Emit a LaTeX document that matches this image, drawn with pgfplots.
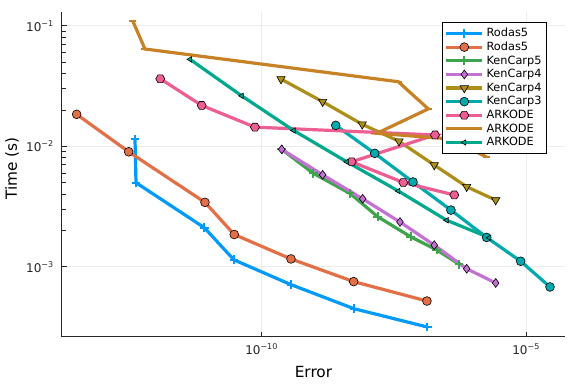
\documentclass[border=0pt]{standalone}
\usepackage{pgfplots}
\pgfplotsset{compat=1.18}
\usepackage{fontspec}
\setmainfont{DejaVu Sans}
\definecolor{c1}{HTML}{009AFA}
\definecolor{c2}{HTML}{E36F47}
\definecolor{c3}{HTML}{3EA44E}
\definecolor{c4}{HTML}{C371D2}
\definecolor{c5}{HTML}{AC8E18}
\definecolor{c6}{HTML}{00A9AD}
\definecolor{c7}{HTML}{ED5E93}
\definecolor{c8}{HTML}{C68225}
\definecolor{c9}{HTML}{00A98D}
\pgfdeclareplotmark{hexagon*}{%
  \pgfpathmoveto{\pgfpointpolar{0}{\pgfplotmarksize}}%
  \pgfpathlineto{\pgfpointpolar{60}{\pgfplotmarksize}}%
  \pgfpathlineto{\pgfpointpolar{120}{\pgfplotmarksize}}%
  \pgfpathlineto{\pgfpointpolar{180}{\pgfplotmarksize}}%
  \pgfpathlineto{\pgfpointpolar{240}{\pgfplotmarksize}}%
  \pgfpathlineto{\pgfpointpolar{300}{\pgfplotmarksize}}%
  \pgfpathclose\pgfusepathqfillstroke}
\begin{document}
\begin{tikzpicture}
\useasboundingbox (-46.5pt,-35.25pt) rectangle (385.5pt,252.75pt);
\begin{axis}[
  at={(0,0)}, anchor=south west,
  scale only axis, width=377.25pt, height=243.75pt,
  xmode=log, ymode=log,
  xmin=1.68e-14, xmax=5.41e-5,
  ymin=2.61e-4, ymax=0.130,
  axis x line*=bottom, axis y line*=left,
  axis line style={-, draw=black!85, line width=0.75pt},
  tick align=inside, major tick length=4pt,
  tick style={draw=black!85, line width=0.6pt},
  xtick={1e-10,1e-5},
  xticklabels={10\textsuperscript{−10},10\textsuperscript{−5}},
  ytick={1e-3,1e-2,1e-1},
  yticklabels={10\textsuperscript{−3},10\textsuperscript{−2},10\textsuperscript{−1}},
  minor xtick={}, minor ytick={},
  ticklabel style={font=\fontsize{9}{10}\selectfont, text=black!85},
  xticklabel style={yshift=-1.5pt},
  yticklabel style={xshift=-2.5pt},
  grid=major, major grid style={draw=black!8, line width=0.5pt},
  xlabel={Error}, ylabel={Time (s)},
  every axis x label/.style={at={(axis description cs:0.5,-0.1092)}, anchor=center, font=\fontsize{11.5}{13}\selectfont},
  every axis y label/.style={at={(axis description cs:-0.0994,0.518)}, anchor=center, rotate=90, font=\fontsize{11.5}{13}\selectfont},
  legend style={at={(1,1)}, anchor=north east, xshift=-13.3pt, yshift=-7.7pt,
    font=\fontsize{8.5}{9}\selectfont, draw=black, line width=0.6pt, fill=white,
    row sep=-1.6pt, inner sep=2pt},
  legend cell align=left,
  legend image code/.code={\draw[mark repeat=2,mark phase=2] plot coordinates {(0pt,0pt) (13.5pt,0pt) (27pt,0pt)};},
  every axis plot/.append style={line width=2.4pt},
]
% Rodas5 (blue, +)
\addplot[c1, mark=+, mark size=3.3pt, mark options={line width=1.5pt}] coordinates {
(1.35e-7,3.16e-4) (5.56e-9,4.48e-4) (3.58e-10,7.10e-4) (2.99e-11,1.14e-3)
(8.22e-12,2.11e-3) (4.21e-13,4.98e-3) (4.03e-13,1.14e-2)};
\addlegendentry{Rodas5}
% Rodas5 (orange circles)
\addplot[c2, mark=*, mark size=3.3pt, mark options={fill=c2, draw=black, line width=0.45pt}] coordinates {
(3.18e-14,1.84e-2) (3.06e-13,8.99e-3) (8.47e-12,3.42e-3) (3.03e-11,1.85e-3)
(3.58e-10,1.16e-3) (5.48e-9,7.52e-4) (1.33e-7,5.19e-4)};
\addlegendentry{Rodas5}
% KenCarp5 (green, +)
\addplot[c3, mark=+, mark size=3.3pt, mark options={line width=1.5pt}] coordinates {
(2.39e-10,9.42e-3) (9.44e-10,5.96e-3) (4.67e-9,4.06e-3) (1.56e-8,2.60e-3)
(6.56e-8,1.77e-3) (2.03e-7,1.38e-3) (5.37e-7,1.05e-3)};
\addlegendentry{KenCarp5}
% KenCarp4 (purple diamonds)
\addplot[c4, mark=diamond*, mark size=3.3pt, mark options={fill=c4, draw=black, line width=0.45pt}] coordinates {
(2.39e-10,9.42e-3) (1.42e-9,5.79e-3) (8.11e-9,3.66e-3) (4.11e-8,2.35e-3)
(1.83e-7,1.51e-3) (7.50e-7,9.62e-4) (2.65e-6,7.33e-4)};
\addlegendentry{KenCarp4}
% KenCarp4 (olive, down triangles)
\addplot[c5, mark=triangle*, mark size=3.6pt, mark options={fill=c5, draw=black, line width=0.45pt, rotate=180}] coordinates {
(2.32e-10,3.61e-2) (1.42e-9,2.34e-2) (7.94e-9,1.52e-2) (3.94e-8,1.10e-2) (1.83e-7,6.98e-3)
(7.50e-7,4.61e-3) (2.65e-6,3.57e-3)};
\addlegendentry{KenCarp4}
% KenCarp3 (teal circles)
\addplot[c6, mark=*, mark size=3.3pt, mark options={fill=c6, draw=black, line width=0.45pt}] coordinates {
(2.51e-9,1.49e-2) (1.37e-8,8.73e-3) (7.24e-8,5.05e-3) (3.78e-7,2.95e-3)
(1.79e-6,1.75e-3) (7.87e-6,1.11e-3) (2.82e-5,6.79e-4)};
\addlegendentry{KenCarp3}
% ARKODE (pink hexagons)
\addplot[c7, mark=hexagon*, mark size=3.4pt, mark options={fill=c7, draw=black, line width=0.45pt}] coordinates {
(1.21e-12,3.63e-2) (7.35e-12,2.18e-2) (7.46e-11,1.44e-2) (1.89e-7,1.24e-2)
(5.02e-9,7.43e-3) (4.75e-8,5.00e-3) (4.38e-7,3.94e-3)};
\addlegendentry{ARKODE}
% ARKODE (brown, hline)
\addplot[c8, mark=-, mark size=2.75pt, mark options={line width=1.5pt}] coordinates {
(3.64e-13,1.10e-1) (6.22e-13,6.41e-2) (3.82e-8,3.43e-2) (1.41e-7,2.04e-2)
(1.51e-8,1.28e-2) (3.63e-7,1.15e-2) (1.79e-6,8.13e-3)};
\addlegendentry{ARKODE}
% ARKODE (teal-green, left triangles)
\addplot[c9, mark=triangle*, mark size=2.3pt, mark options={fill=c9, draw=black, line width=0.45pt, rotate=90}] coordinates {
(4.42e-12,5.26e-2) (4.19e-11,2.62e-2) (4.03e-10,1.35e-2) (4.05e-9,7.43e-3)
(3.82e-8,4.25e-3) (3.14e-7,2.43e-3) (2.01e-6,1.74e-3)};
\addlegendentry{ARKODE}
\end{axis}
\end{tikzpicture}
\end{document}
